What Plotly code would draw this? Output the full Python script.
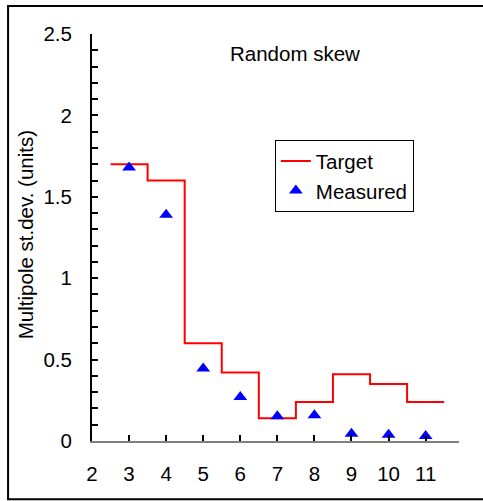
import plotly.graph_objects as go

orders = [3, 4, 5, 6, 7, 8, 9, 10, 11]
target = [1.70, 1.60, 0.60, 0.42, 0.14, 0.24, 0.41, 0.35, 0.24]
measured = [1.68, 1.39, 0.445, 0.27, 0.152, 0.158, 0.045, 0.039, 0.031]
x_ticks = [2, 3, 4, 5, 6, 7, 8, 9, 10, 11]
y_ticks = [0, 0.5, 1, 1.5, 2, 2.5]

# step edges for target
step_x = [o - 0.5 for o in orders] + [orders[-1] + 0.5]
step_y = target + [target[-1]]

FONT = "Liberation Sans, Arial, sans-serif"
FS = 20.5

W, H = 483, 501
L, R, T, B = 92, 459.3, 34, 440.7  # plot area in px

def px2paper_x(px):
    return (px - L) / (R - L)

def px2paper_y(py):
    return (B - py) / (B - T)

fig = go.Figure()
fig.add_trace(go.Scatter(
    x=step_x, y=step_y, mode="lines", line=dict(color="#FF0000", width=2, shape="hv"),
    name="Target"))
fig.add_trace(go.Scatter(
    x=orders, y=measured, mode="markers",
    marker=dict(symbol="triangle-up", size=12, color="#0000FF", line=dict(width=0)),
    name="Measured"))

fig.update_layout(
    width=W, height=H,
    margin=dict(l=L, r=W - R, t=T, b=H - B, pad=0),
    paper_bgcolor="white", plot_bgcolor="white",
    font=dict(family=FONT, size=FS, color="black"),
    showlegend=True,
    legend=dict(x=px2paper_x(275), y=px2paper_y(140), xanchor="left", yanchor="top",
                bordercolor="black", borderwidth=1, bgcolor="white",
                font=dict(family=FONT, size=FS), tracegroupgap=0),
    xaxis=dict(range=[2, 11.9], tickvals=x_ticks, ticktext=[str(v) for v in x_ticks],
               ticks="inside", ticklen=6, tickwidth=1.5, tickcolor="black",
               showline=True, linecolor="#808080", linewidth=2,
               showgrid=False, zeroline=False, ticklabelstandoff=13,
               tickfont=dict(family=FONT, size=FS)),
    yaxis=dict(range=[0, 2.5], tickvals=y_ticks, ticktext=["0", "0.5", "1", "1.5", "2", "2.5"],
               ticks="inside", ticklen=6, tickwidth=1.5, tickcolor="black",
               minor=dict(dtick=0.1, tick0=0, ticks="inside", ticklen=6, tickwidth=1.5, tickcolor="black"),
               showline=True, linecolor="black", linewidth=2,
               showgrid=False, zeroline=False, ticklabelstandoff=14,
               tickfont=dict(family=FONT, size=FS)),
)

fig.add_annotation(text="Random skew", xref="paper", yref="paper",
                   x=px2paper_x(295), y=px2paper_y(53), xanchor="center", yanchor="middle",
                   showarrow=False, font=dict(family=FONT, size=FS))
fig.add_annotation(text="Multipole st.dev. (units)", xref="paper", yref="paper",
                   x=px2paper_x(25), y=px2paper_y(235), xanchor="center", yanchor="middle",
                   textangle=-90, showarrow=False, font=dict(family=FONT, size=FS))

fig.add_shape(type="rect", xref="paper", yref="paper",
              x0=px2paper_x(8), x1=px2paper_x(495), y0=px2paper_y(499), y1=px2paper_y(6),
              line=dict(color="black", width=2), fillcolor="rgba(0,0,0,0)", layer="below")

fig.write_html("out.html")
